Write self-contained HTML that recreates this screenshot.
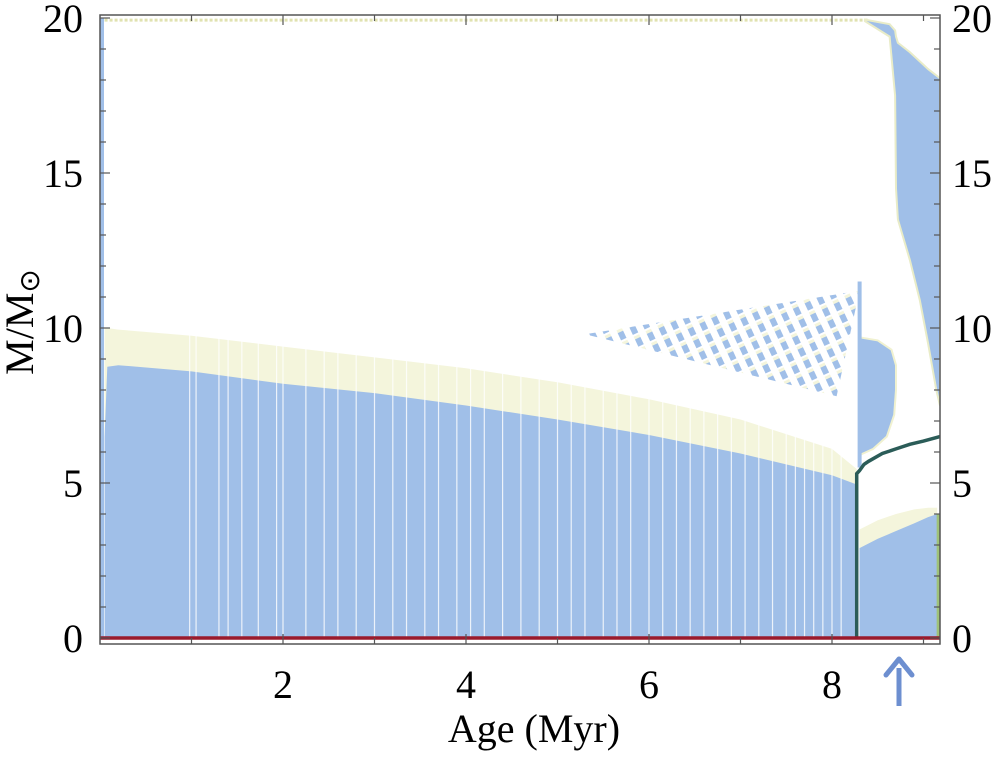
<!DOCTYPE html>
<html><head><meta charset="utf-8"><style>
html,body{margin:0;padding:0;background:#fff;}
svg{display:block;font-family:"Liberation Serif",serif;}
</style></head><body>
<svg id="chart" width="999" height="757" viewBox="0 0 999 757">
<defs>
<pattern id="dots" width="13" height="13" patternUnits="userSpaceOnUse" patternTransform="rotate(-25)">
<rect x="3" y="1" width="6" height="4" fill="#f4f5dc"/>
<rect x="3" y="4" width="6" height="8" fill="#a0bfe8"/>
</pattern>
<clipPath id="plotclip"><rect x="100" y="15" width="840" height="629"/></clipPath>
</defs>
<g id="plot" clip-path="url(#plotclip)"></g>
<g id="axes"></g>
<text x="534" y="742" font-size="40" text-anchor="middle">Age (Myr)</text>
<text transform="translate(33,322) rotate(-90)" font-size="40" text-anchor="middle">M/M<tspan font-family="DejaVu Sans" font-size="28" dy="6">⊙</tspan></text>
<g>
<line x1="899" y1="706" x2="899" y2="668" stroke="#6d8fd0" stroke-width="5"/>
<path d="M886,675 L899,659 L912,675" fill="none" stroke="#6d8fd0" stroke-width="5" stroke-linejoin="round" stroke-linecap="round"/>
</g>
</svg>
<script>
// ---- data ----
const mainAges = [0.05,0.08,0.2,1,2,3,4,5,6,7,8,8.27];
const mainBlueTop = [6.5,8.75,8.8,8.6,8.2,7.9,7.5,7.05,6.55,5.95,5.25,4.95];
const mainYellowTop = [10,10,9.95,9.75,9.4,9.05,8.7,8.25,7.7,7.05,6.1,5.45];
const stripeAges = [0.98,1.05,1.3,1.4,1.55,1.73,1.93,2.0,2.25,2.45,2.6,2.8,3.0,3.2,3.35,3.55,3.7,3.9,4.05,4.2,4.4,4.6,4.8,5.0,5.15,5.3,5.5,5.65,5.8,6.0,6.15,6.3,6.45,6.6,6.75,6.9,7.05,7.2,7.35,7.5,7.6,7.7,7.8,7.9,8.0,8.1];
const envAges = [8.36,8.63,8.69,8.7,8.72,8.85,8.96,9.05,9.14,9.18];
const envInner = [19.9,19.4,17.5,14.5,13.5,12.2,10.9,9.5,8.0,7.5];
const envTop = [19.95,19.8,19.6,19.4,19.2,18.9,18.6,18.35,18.15,18.05];
const midAges = [8.3,8.5,8.65,8.7,8.7,8.68,8.6,8.45,8.3];
const midMass = [9.7,9.6,9.3,8.8,8.0,7.2,6.5,6.1,5.9];
const coreAges = [8.3,8.5,8.7,8.9,9.05,9.15];
const coreBlueTop = [2.9,3.2,3.45,3.7,3.9,4.0];
const coreYellowTop = [3.5,3.8,4.0,4.15,4.2,4.2];
const triAges = [5.3,8.3,8.05];
const triMass = [9.8,11.2,7.8];
const heAges = [8.27,8.27,8.3,8.35,8.4,8.55,8.7,8.85,9.0,9.18];
const heMass = [0,5.3,5.4,5.6,5.7,5.95,6.1,6.25,6.35,6.5];
const xTicks = [2,4,6,8];
const yTicks = [0,5,10,15,20];
// ---- scales ----
const X = a => 100 + a*91.5;
const Y = m => 638 - m*31;
const NS='http://www.w3.org/2000/svg';
const plot=document.getElementById('plot'), axes=document.getElementById('axes');
function mk(tag,attrs,parent){const e=document.createElementNS(NS,tag);for(const k in attrs)e.setAttribute(k,attrs[k]);parent.appendChild(e);return e;}
function poly(xs,ys){return xs.map((a,i)=>X(a).toFixed(1)+','+Y(ys[i]).toFixed(1)).join(' ');}
let p=mk('polygon',{points:poly([mainAges[0],...mainAges,mainAges[mainAges.length-1]],[0,...mainYellowTop,0]),fill:'#f4f5dc'},plot);


p=mk('polygon',{points:poly([mainAges[0],...mainAges,mainAges[mainAges.length-1]],[0,...mainBlueTop,0]),fill:'#a0bfe8'},plot);


stripeAges.forEach(a=>{const l=mk('line',{x1:X(a),x2:X(a),y1:Y(0),y2:Y(10),stroke:'#fff','stroke-width':1.2,opacity:0.8},plot);

});
let s=mk('line',{x1:X(0.05),x2:X(8.4),y1:Y(19.93),y2:Y(19.93),stroke:'#e0e2b0','stroke-width':3,'stroke-dasharray':'3 2'},plot);


s=mk('rect',{x:X(0),y:Y(20),width:4,height:Y(0)-Y(20),fill:'#a0bfe8'},plot);


p=mk('polygon',{points:poly([...envAges,...envAges.slice().reverse()],[...envInner,...envTop.slice().reverse()]),fill:'#a0bfe8',stroke:'#e9ecc8','stroke-width':2},plot);


p=mk('polygon',{points:poly(triAges,triMass),fill:'url(#dots)'},plot);


p=mk('polygon',{points:poly(midAges,midMass),fill:'#a0bfe8',stroke:'#f0f1d0','stroke-width':2},plot);


p=mk('rect',{x:X(8.28),y:Y(11.5),width:4,height:Y(5.5)-Y(11.5),fill:'#a0bfe8'},plot);


p=mk('polygon',{points:poly([coreAges[0],...coreAges,coreAges[coreAges.length-1]],[0,...coreYellowTop,0]),fill:'#f4f5dc'},plot);


p=mk('polygon',{points:poly([coreAges[0],...coreAges,coreAges[coreAges.length-1]],[0,...coreBlueTop,0]),fill:'#a0bfe8'},plot);


p=mk('line',{x1:X(9.16),x2:X(9.16),y1:Y(0),y2:Y(4),stroke:'#9fc27a','stroke-width':3},plot);


p=mk('polyline',{points:poly(heAges,heMass),fill:'none',stroke:'#2b5c58','stroke-width':3.5},plot);


p=mk('line',{x1:100,x2:940,y1:Y(0),y2:Y(0),stroke:'#9a1a2c','stroke-width':3.5},plot);


p=mk('rect',{x:100,y:15,width:840,height:629,fill:'none',stroke:'#555','stroke-width':1.5},axes);


for(let m=0;m<=20;m++){const len=m%5===0?10:6;
 let t=mk('line',{x1:100,x2:100+len,y1:Y(m),y2:Y(m),stroke:'#555','stroke-width':1.2},axes);
 
 
 t=mk('line',{x1:940-len,x2:940,y1:Y(m),y2:Y(m),stroke:'#555','stroke-width':1.2},axes);
 
 }
for(let a=1;a<=9;a++){const len=a%2===0?10:6;
 let t=mk('line',{x1:X(a),x2:X(a),y1:644,y2:644-len,stroke:'#555','stroke-width':1.2},axes);
 
 
 t=mk('line',{x1:X(a),x2:X(a),y1:15,y2:15+len,stroke:'#555','stroke-width':1.2},axes);
 
 }
yTicks.forEach(m=>{let t=mk('text',{x:83,y:Y(m)+14,'font-size':40,'text-anchor':'end'},axes);t.textContent=m;
 
 
 t=mk('text',{x:952,y:Y(m)+14,'font-size':40,'text-anchor':'start'},axes);t.textContent=m;
 
 });
xTicks.forEach(a=>{const t=mk('text',{x:X(a),y:698,'font-size':40,'text-anchor':'middle'},axes);t.textContent=a;
 
 });
</script>
</body></html>
